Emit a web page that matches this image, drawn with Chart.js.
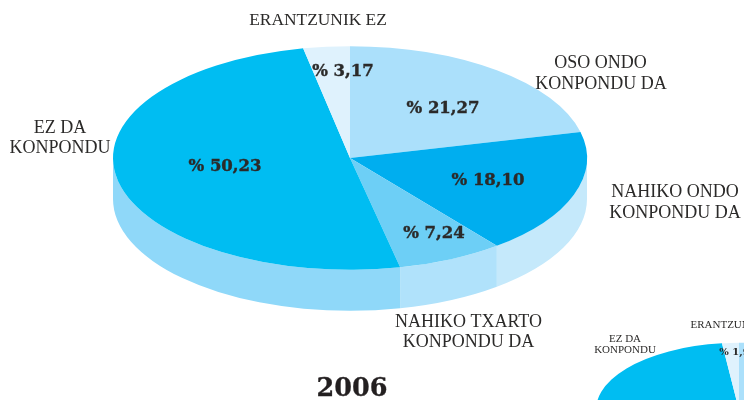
<!DOCTYPE html>
<html>
<head>
<meta charset="utf-8">
<script src="https://cdn.jsdelivr.net/npm/chart.js@4"></script>
<style>
html,body{margin:0;padding:0;background:#fff;width:744px;height:400px;overflow:hidden}
canvas{position:absolute;left:0;top:0}
</style>
</head>
<body>
<canvas id="small" width="744" height="400"></canvas>
<canvas id="main" width="744" height="400"></canvas>
<script>
// Data ---------------------------------------------------------------
const categories = ['OSO ONDO KONPONDU DA','NAHIKO ONDO KONPONDU DA','NAHIKO TXARTO KONPONDU DA','EZ DA KONPONDU','ERANTZUNIK EZ'];
const values2006 = [21.27, 18.10, 7.24, 50.23, 3.17];
const valuesOther = [22.4, 17.6, 8.1, 50.0, 1.9];
const topColors  = ['#abe0fb','#00aeef','#6dcff6','#00bdf2','#dff2fd'];
const sideColors = ['#d3effc','#c5e9fb','#b0e2fb','#8fd8f9','#e6f6fe'];
const yearTitle = '2006';

const SERIF = '"Liberation Serif", serif';
const SLAB = '"DejaVu Serif", serif';

function pct(v, digits){ return '% ' + v.toFixed(digits).replace('.', ','); }

// Tilts the library's pie into an ellipse, adds the rim, then writes the text.
const tiltPlugin = {
  id: 'tilt',
  beforeDatasetsDraw(chart, args, o) {
    const ctx = chart.ctx, arcs = chart.getDatasetMeta(0).data;
    const a0 = arcs[0];
    const rx = a0.outerRadius, ry = rx * o.squash;
    ctx.save();
    // rim (front half only)
    arcs.forEach((arc, i) => {
      const s = Math.max(arc.startAngle, 0), e = Math.min(arc.endAngle, Math.PI);
      if (e <= s) return;
      ctx.beginPath();
      ctx.ellipse(o.cx, o.cy, rx, ry, 0, s, e);
      ctx.ellipse(o.cx, o.cy + o.depth, rx, ry, 0, e, s, true);
      ctx.closePath();
      ctx.fillStyle = sideColors[i];
      ctx.fill();
    });
    ctx.translate(o.cx, o.cy);
    ctx.scale(1, o.squash);
    ctx.translate(-a0.x, -a0.y);
  },
  afterDatasetsDraw(chart, args, o) {
    const ctx = chart.ctx;
    ctx.restore();
    ctx.textAlign = 'center';
    ctx.textBaseline = 'middle';
    o.texts.forEach(t => {
      ctx.font = t.font;
      ctx.fillStyle = t.color || '#2b2a29';
      ctx.fillText(t.text, t.x, t.y);
      if (t.heavy) {
        ctx.strokeStyle = ctx.fillStyle;
        ctx.lineWidth = t.heavy;
        ctx.strokeText(t.text, t.x, t.y);
      }
    });
  }
};

function makePie(id, values, radius, opts) {
  return new Chart(document.getElementById(id), {
    type: 'pie',
    data: { labels: categories, datasets: [{ data: values, backgroundColor: topColors, borderWidth: 0, clip: false }] },
    options: {
      responsive: false,
      animation: false,
      radius: radius,
      layout: { padding: 0 },
      plugins: { legend: { display: false }, tooltip: { enabled: false }, tilt: opts }
    },
    plugins: [tiltPlugin]
  });
}

const lab = '18px ' + SERIF, val = 'bold 16.5px ' + SLAB, hv = 0.4;
makePie('main', values2006, 237, {
  cx: 350, cy: 158, squash: 0.472, depth: 41,
  texts: [
    { text: 'ERANTZUNIK EZ', x: 318, y: 20, font: '17.4px ' + SERIF },
    { text: 'OSO ONDO', x: 600.5, y: 63, font: lab },
    { text: 'KONPONDU DA', x: 601, y: 84, font: lab },
    { text: 'EZ DA', x: 60, y: 128, font: lab },
    { text: 'KONPONDU', x: 60, y: 148, font: lab },
    { text: 'NAHIKO ONDO', x: 675, y: 192, font: lab },
    { text: 'KONPONDU DA', x: 675, y: 213, font: lab },
    { text: 'NAHIKO TXARTO', x: 468.5, y: 322, font: lab },
    { text: 'KONPONDU DA', x: 468.5, y: 342, font: lab },
    { text: pct(values2006[0], 2), x: 443, y: 109, font: val, heavy: hv },
    { text: pct(values2006[1], 2), x: 488, y: 181, font: val, heavy: hv },
    { text: pct(values2006[2], 2), x: 434, y: 234, font: val, heavy: hv },
    { text: pct(values2006[3], 2), x: 225, y: 167, font: val, heavy: hv },
    { text: pct(values2006[4], 2), x: 343, y: 72, font: val, heavy: hv },
    { text: yearTitle, x: 352, y: 389, font: 'bold 25.5px ' + SLAB, color: '#231f20', heavy: 0.3 }
  ]
});
const labS = '11px ' + SERIF;
makePie('small', valuesOther, 143, {
  cx: 739, cy: 410, squash: 0.47, depth: 25,
  texts: [
    { text: 'ERANTZUNIK EZ', x: 734, y: 325, font: labS },
    { text: 'EZ DA', x: 625, y: 339, font: labS },
    { text: 'KONPONDU', x: 625, y: 350, font: labS },
    { text: pct(valuesOther[4], 2), x: 738, y: 352, font: 'bold 10px ' + SLAB }
  ]
});
</script>
</body>
</html>
